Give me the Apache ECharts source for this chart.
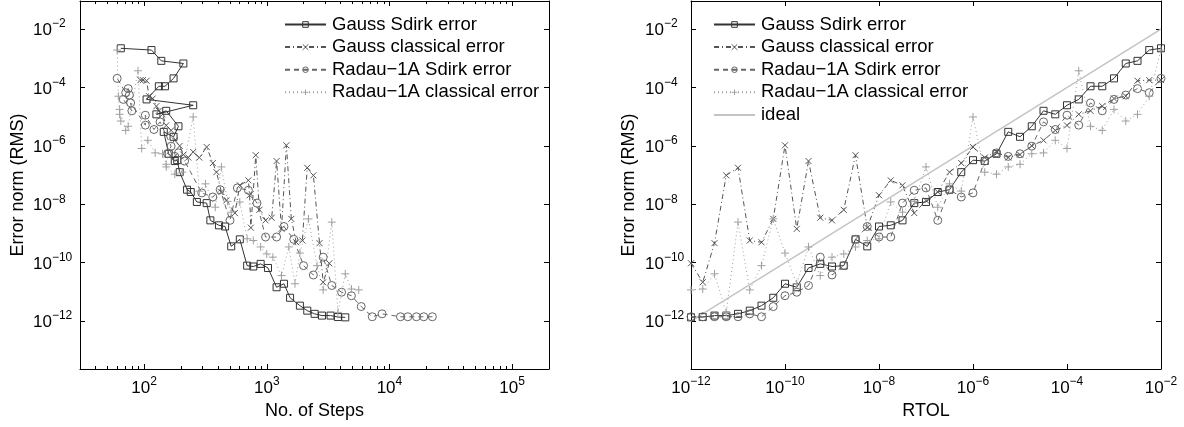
<!DOCTYPE html>
<html><head><meta charset="utf-8">
<script src="https://cdn.jsdelivr.net/npm/echarts@6/dist/echarts.min.js"></script>
<style>html,body{margin:0;padding:0;background:#fff}#c{width:1184px;height:427px}</style>
</head><body><div id="c"></div>
<script>
// ---- series names ----
const names = ['Gauss Sdirk error', 'Gauss classical error', 'Radau\u22121A Sdirk error', 'Radau\u22121A classical error', 'ideal'];

// ---- RTOL (log10), one entry per run, ascending ----
const rtolLog = [-12,-11.75,-11.5,-11.25,-11,-10.75,-10.5,-10.25,-10,-9.75,-9.5,-9.25,-9,-8.75,-8.5,-8.25,-8,-7.75,-7.5,-7.25,-7,-6.75,-6.5,-6.25,-6,-5.75,-5.5,-5.25,-5,-4.75,-4.5,-4.25,-4,-3.75,-3.5,-3.25,-3,-2.75,-2.5,-2.25,-2];

// ---- error norm (log10) ----
const gaussSdirkErr = [-11.87,-11.86,-11.81,-11.81,-11.75,-11.64,-11.47,-11.2,-10.72,-10.84,-10.18,-10.04,-10.13,-10.1,-9.2,-9.44,-8.76,-8.72,-8.55,-7.96,-7.92,-7.58,-7.5,-6.9,-6.49,-6.52,-6.27,-5.52,-5.69,-5.33,-4.8,-4.92,-4.61,-4.41,-3.96,-3.96,-3.69,-3.18,-3.09,-2.72,-2.66];
const gaussClassErr = [-10.02,-10.67,-9.33,-7.01,-6.75,-9.24,-9.3,-8.5,-5.98,-8.84,-6.52,-8.46,-8.55,-8.19,-6.32,-8.8,-7.69,-7.18,-7.35,-8.3,-7.87,-7.58,-6.9,-6.59,-6.04,-6.4,-6.21,-6.4,-6.3,-6.0,-5.81,-5.47,-5.3,-4.92,-4.8,-4.64,-4.38,-4.3,-3.77,-3.75,-3.75];
const radauSdirkErr = [-11.85,-11.85,-11.85,-11.85,-11.85,-11.75,-11.85,-11.5,-11.13,-11.01,-10.78,-9.81,-10.42,-10.1,-9.2,-8.76,-9.12,-9.12,-7.96,-7.52,-7.44,-8.55,-7.5,-7.75,-7.61,-6.52,-6.24,-6.36,-6.27,-6.01,-5.18,-5.44,-4.95,-5.29,-4.53,-4.8,-4.41,-4.26,-4.04,-4.18,-3.69];
const radauClassErr = [-10.93,-10.9,-10.38,-11.7,-8.61,-10.93,-10.1,-8.5,-9.67,-10.72,-9.46,-10.44,-9.81,-9.7,-9.46,-9.24,-9.18,-7.92,-8.27,-7.9,-6.72,-8.1,-7.3,-7.55,-5.01,-6.9,-6.97,-6.72,-6.63,-6.27,-6.24,-5.81,-6.09,-3.43,-5.33,-5.47,-4.75,-5.15,-4.92,-4.3,-2.72];

// ---- number of steps (log10) ----
const gaussSdirkSteps = [3.64,3.58,3.52,3.45,3.39,3.33,3.27,3.19,3.14,3.08,3.01,2.95,2.89,2.84,2.78,2.71,2.66,2.61,2.54,2.51,2.43,2.38,2.35,2.29,2.27,2.25,2.20,2.16,2.24,2.28,2.18,2.10,2.40,2.02,2.12,2.17,2.24,2.32,2.14,2.06,1.81];
const gaussClassSteps = [3.51,3.46,3.43,3.38,3.33,3.29,3.24,3.20,3.16,3.12,3.08,3.04,2.99,2.94,2.91,2.87,2.86,2.85,2.78,2.74,2.67,2.63,2.59,2.56,2.51,2.45,2.40,2.36,2.32,2.29,2.25,2.22,2.18,2.15,2.12,2.10,2.07,2.04,2.02,1.99,1.97];
const radauSdirkSteps = [4.35,4.28,4.22,4.15,4.09,3.94,3.86,3.77,3.69,3.61,3.53,3.46,3.38,3.30,3.22,3.14,3.08,2.99,2.92,2.85,2.76,2.70,2.62,2.56,2.47,2.33,2.28,2.25,2.19,2.22,2.13,2.08,2.01,2.01,1.89,1.90,1.83,1.88,1.87,1.85,1.78];
const radauClassSteps = [3.75,3.69,3.64,3.58,3.53,3.46,3.41,3.34,3.27,3.23,3.18,3.12,3.05,3.00,2.95,2.89,2.84,2.78,2.71,2.68,2.63,2.58,2.50,2.45,2.40,2.31,2.25,2.18,2.18,2.15,2.09,2.03,1.98,1.95,1.87,1.85,1.80,1.81,1.80,1.79,1.78];

// ---- ideal line ----
const idealX = [1e-12, 1e-2];
const idealY = [1e-12, 1e-2];

// ---- ticks ----
const yTicks = [1e-12, 1e-10, 1e-8, 1e-6, 1e-4, 1e-2];
const stepsTicks = [100, 1000, 10000, 100000];
const stepsMinorTicks = [40,50,60,70,80,90,200,300,400,500,600,700,800,900,2000,3000,4000,5000,6000,7000,8000,9000,20000,30000,40000,50000,60000,70000,80000,90000];
const rtolTicks = [1e-12, 1e-10, 1e-8, 1e-6, 1e-4, 1e-2];

const FONT = 'Liberation Sans, Arial, Helvetica, sans-serif';
const pw = v => Math.pow(10, v);

function expLabel(v) {
  const e = Math.round(Math.log10(v));
  return '{b|10}{s|' + (e < 0 ? '\u2212' + (-e) : e) + '}';
}
const rich = {
  b: { fontSize: 17, fontFamily: FONT, color: '#000', lineHeight: 20, verticalAlign: 'bottom' },
  s: { fontSize: 12, fontFamily: FONT, color: '#000', lineHeight: 13, padding: [0, 0, 9, 0], verticalAlign: 'bottom' }
};

function xAx(gi, min, max, opt) {
  return Object.assign({
    type: 'log', logBase: 10, gridIndex: gi, min: min, max: max, position: 'bottom',
    splitLine: { show: false }, minorTick: { show: false }, minorSplitLine: { show: false },
    axisLine: { show: true, lineStyle: { color: '#000', width: 1 } },
    axisTick: { show: true, inside: true, length: 5, lineStyle: { color: '#000' } },
    axisLabel: { show: false }
  }, opt);
}
function yAx(gi, opt) {
  return Object.assign({
    type: 'log', logBase: 10, gridIndex: gi, min: 2.3e-14, max: 0.091, position: 'left',
    splitLine: { show: false }, minorTick: { show: false },
    axisLine: { show: true, lineStyle: { color: '#000', width: 1 } },
    axisTick: { show: true, inside: true, length: 5, customValues: yTicks, lineStyle: { color: '#000' } },
    axisLabel: { show: false }
  }, opt);
}

const xAxes = [
  // left panel (grid 0)
  xAx(0, 30, 2e5, {
    name: 'No. of Steps', nameLocation: 'middle', nameGap: 27,
    nameTextStyle: { fontSize: 18, fontFamily: FONT, color: '#000' },
    axisTick: { show: true, inside: true, length: 5, customValues: stepsTicks, lineStyle: { color: '#000' } },
    axisLabel: { show: true, customValues: stepsTicks, formatter: expLabel, rich: rich, margin: 8 }
  }),
  xAx(0, 30, 2e5, { position: 'top', axisTick: { show: true, inside: true, length: 5, customValues: stepsTicks, lineStyle: { color: '#000' } } }),
  xAx(0, 30, 2e5, { axisLine: { show: false }, axisTick: { show: true, inside: true, length: 3, customValues: stepsMinorTicks, lineStyle: { color: '#000' } } }),
  xAx(0, 30, 2e5, { position: 'top', axisLine: { show: false }, axisTick: { show: true, inside: true, length: 3, customValues: stepsMinorTicks, lineStyle: { color: '#000' } } }),
  // right panel (grid 1)
  xAx(1, 1e-12, 1e-2, {
    name: 'RTOL', nameLocation: 'middle', nameGap: 27,
    nameTextStyle: { fontSize: 18, fontFamily: FONT, color: '#000' },
    axisTick: { show: true, inside: true, length: 5, customValues: rtolTicks, lineStyle: { color: '#000' } },
    axisLabel: { show: true, customValues: rtolTicks, formatter: expLabel, rich: rich, margin: 8 }
  }),
  xAx(1, 1e-12, 1e-2, { position: 'top', axisTick: { show: true, inside: true, length: 5, customValues: rtolTicks, lineStyle: { color: '#000' } } })
];

const yAxes = [
  yAx(0, {
    name: 'Error norm (RMS)', nameLocation: 'middle', nameGap: 53,
    nameTextStyle: { fontSize: 18, fontFamily: FONT, color: '#000' },
    axisLabel: { show: true, customValues: yTicks, formatter: expLabel, rich: rich, margin: 47, align: 'left' }
  }),
  yAx(0, { position: 'right' }),
  yAx(1, {
    name: 'Error norm (RMS)', nameLocation: 'middle', nameGap: 53,
    nameTextStyle: { fontSize: 18, fontFamily: FONT, color: '#000' },
    axisLabel: { show: true, customValues: yTicks, formatter: expLabel, rich: rich, margin: 46, align: 'left' }
  }),
  yAx(1, { position: 'right' })
];

const styles = [
  { color: '#333', symbol: 'rect', size: 7, dash: 'solid', lw: 1 },
  { color: '#555', symbol: 'path://M0,0L10,10M10,0L0,10', size: 6, dash: [5, 3, 1, 3], lw: 1 },
  { color: '#666', symbol: 'circle', size: 8, dash: [5, 4], lw: 1 },
  { color: '#a0a0a0', symbol: 'path://M5,0L5,10M0,5L10,5', size: 8, dash: [1, 3], lw: 1 }
];

function mk(i, xs, ys, xi, yi) {
  const st = styles[i];
  const data = xs.map((x, k) => [pw(x), pw(ys[k])]);
  return {
    name: names[i], type: 'line', xAxisIndex: xi, yAxisIndex: yi, data: data,
    symbol: st.symbol, symbolSize: st.size, showSymbol: true, showAllSymbol: true,
    lineStyle: { color: st.color, width: st.lw, type: st.dash },
    itemStyle: { color: 'transparent', borderColor: st.color, borderWidth: 1 },
    emphasis: { disabled: true }, silent: true, animation: false
  };
}

const series = [
  mk(0, gaussSdirkSteps, gaussSdirkErr, 0, 0),
  mk(1, gaussClassSteps, gaussClassErr, 0, 0),
  mk(2, radauSdirkSteps, radauSdirkErr, 0, 0),
  mk(3, radauClassSteps, radauClassErr, 0, 0),
  mk(0, rtolLog, gaussSdirkErr, 4, 2),
  mk(1, rtolLog, gaussClassErr, 4, 2),
  mk(2, rtolLog, radauSdirkErr, 4, 2),
  mk(3, rtolLog, radauClassErr, 4, 2),
  {
    name: names[4], type: 'line', xAxisIndex: 4, yAxisIndex: 2,
    data: idealX.map((x, k) => [x, idealY[k]]), symbol: 'none',
    lineStyle: { color: '#c4c4c4', width: 1.5 },
    itemStyle: { color: 'transparent', borderWidth: 0 },
    emphasis: { disabled: true }, silent: true, animation: false
  }
];

const legendCommon = {
  orient: 'vertical', align: 'left', itemWidth: 41, itemHeight: 7, itemGap: 3.6,
  selectedMode: false,
  textStyle: { fontSize: 18.5, fontFamily: FONT, color: '#000', padding: [0, 0, 0, 1] },
  itemStyle: { borderWidth: 1 }
};

const chart = echarts.init(document.getElementById('c'), null, { renderer: 'canvas' });
chart.setOption({
  animation: false,
  backgroundColor: '#fff',
  grid: [
    { left: 80, top: 1, right: 635, bottom: 58 },
    { left: 691, top: 1, right: 23, bottom: 58 }
  ],
  legend: [
    Object.assign({ left: 279, top: 10, data: names.slice(0, 4) }, legendCommon),
    Object.assign({ left: 708, top: 10, data: names.slice(0, 5) }, legendCommon)
  ],
  xAxis: xAxes,
  yAxis: yAxes,
  series: series
});
</script>
</body></html>
